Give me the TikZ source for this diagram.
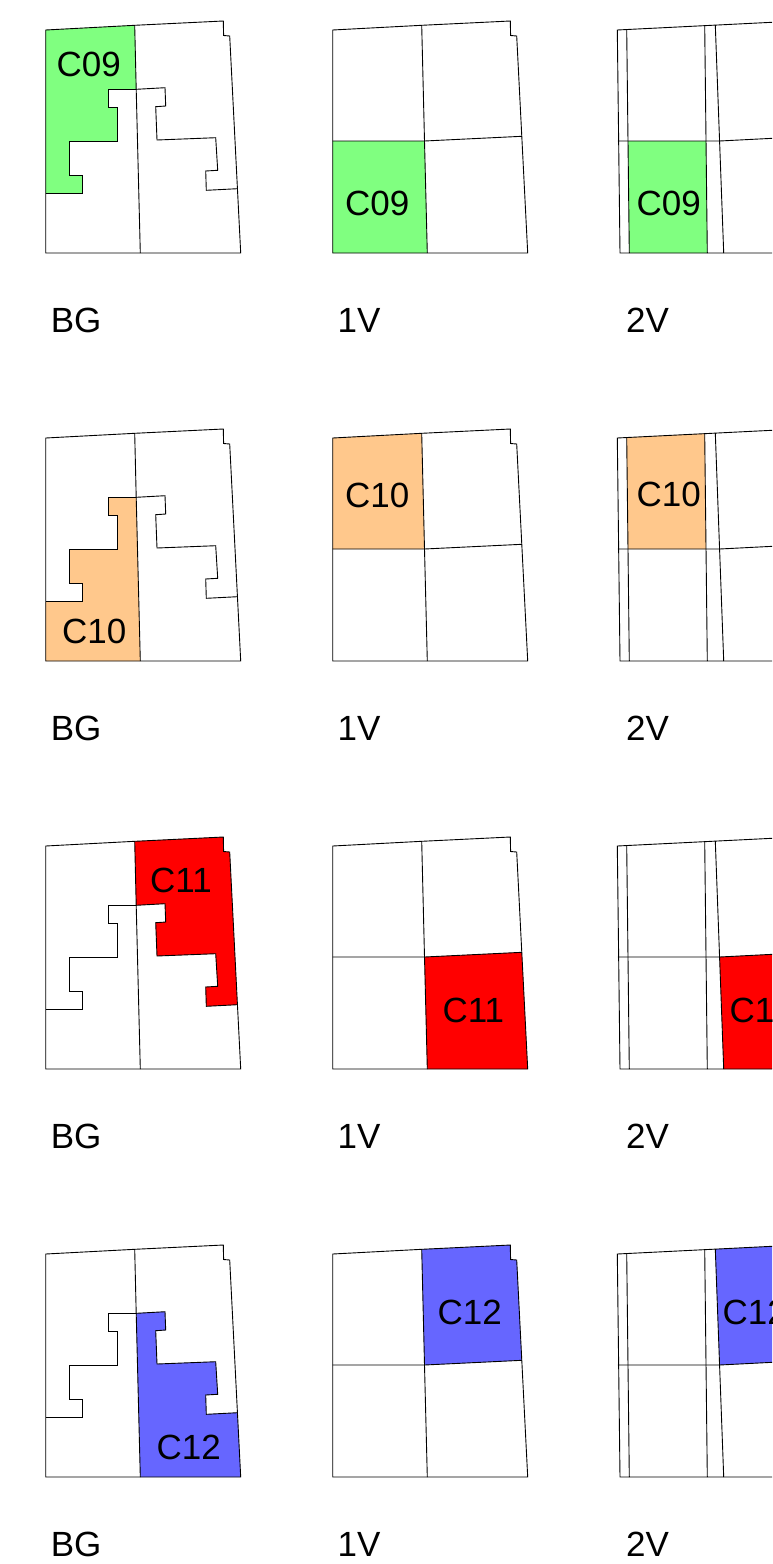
\documentclass[tikz,border=0pt]{standalone}
\usepackage{fontspec}
\setmainfont{Liberation Sans}
\definecolor{cgreen}{RGB}{128,255,128}
\definecolor{corange}{RGB}{255,200,140}
\definecolor{cred}{RGB}{255,0,0}
\definecolor{cblue}{RGB}{102,102,255}
% BG regions
\newcommand\pBGnine{(45.7,30) -- (134.7,25.3) -- (136.2,89.3) -- (108.3,89.3) -- (108.3,107.8) -- (117.3,107.8) -- (117.3,141.2) -- (69.7,141.2) -- (69.7,175.4) -- (82.2,175.4) -- (82.2,193.8) -- (45.7,193.8) -- cycle}
\newcommand\pBGten{(45.7,193.8) -- (82.2,193.8) -- (82.2,175.4) -- (69.7,175.4) -- (69.7,141.2) -- (117.3,141.2) -- (117.3,107.8) -- (108.3,107.8) -- (108.3,89.3) -- (136.2,89.3) -- (140.3,253) -- (45.7,253) -- cycle}
\newcommand\pBGeleven{(134.7,25.3) -- (223.3,21) -- (223.6,35.5) -- (229.7,36) -- (237.4,188.7) -- (206.3,190.3) -- (205.7,171) -- (217.7,170.3) -- (215.7,137.7) -- (157,140) -- (155.7,106.7) -- (165.7,106) -- (165,87.7) -- (136.2,89.3) -- cycle}
\newcommand\pBGtwelve{(136.2,89.3) -- (165,87.7) -- (165.7,106) -- (155.7,106.7) -- (157,140) -- (215.7,137.7) -- (217.7,170.3) -- (205.7,171) -- (206.3,190.3) -- (237.4,188.7) -- (240.7,253) -- (140.3,253) -- cycle}
% 1V regions
\newcommand\pOVnine{(332.7,141) -- (424.5,141) -- (427.3,253) -- (332.7,253) -- cycle}
\newcommand\pOVten{(332.7,30) -- (421.7,25.3) -- (424.5,141) -- (332.7,141) -- cycle}
\newcommand\pOVeleven{(424.5,141) -- (521.8,136.3) -- (527.7,253) -- (427.3,253) -- cycle}
\newcommand\pOVtwelve{(421.7,25.3) -- (510.3,21) -- (510.6,35.5) -- (516.7,36) -- (521.8,136.3) -- (424.5,141) -- cycle}
% 2V regions
\newcommand\pTVnine{(628.0,141) -- (706.0,141) -- (707.3,253) -- (629.3,253) -- cycle}
\newcommand\pTVten{(626.7,29.5) -- (704.7,25.6) -- (706.0,141) -- (628.0,141) -- cycle}
\newcommand\pTVeleven{(719.6,141) -- (800,136.9) -- (800,253) -- (723.7,253) -- cycle}
\newcommand\pTVtwelve{(715.3,25.1) -- (800,20.9) -- (800,136.9) -- (719.6,141) -- cycle}
% outlines
\newcommand\BGlines{%
  \draw[ln] (45.7,30) -- (134.7,25.3) -- (223.3,21) -- (223.6,35.5) -- (229.7,36) -- (240.7,253) -- (45.7,253) -- cycle;
  \draw[ln] (134.7,25.3) -- (136.2,89.3) -- (140.3,253);
  \draw[ln] (136.2,89.3) -- (108.3,89.3) -- (108.3,107.8) -- (117.3,107.8) -- (117.3,141.2) -- (69.7,141.2) -- (69.7,175.4) -- (82.2,175.4) -- (82.2,193.8) -- (45.7,193.8);
  \draw[ln] (136.2,89.3) -- (165,87.7) -- (165.7,106) -- (155.7,106.7) -- (157,140) -- (215.7,137.7) -- (217.7,170.3) -- (205.7,171) -- (206.3,190.3) -- (237.4,188.7);}
\newcommand\OVlines{%
  \draw[ln] (332.7,30) -- (421.7,25.3) -- (510.3,21) -- (510.6,35.5) -- (516.7,36) -- (527.7,253) -- (332.7,253) -- cycle;
  \draw[ln] (421.7,25.3) -- (424.5,141) -- (427.3,253);
  \draw[ln] (332.7,141) -- (424.5,141) -- (521.8,136.3);}
\newcommand\TVlines{%
  \draw[ln] (800,20.9) -- (617.3,30) -- (620,253) -- (800,253);
  \draw[ln] (626.7,29.5) -- (629.3,253);
  \draw[ln] (704.7,25.6) -- (707.3,253);
  \draw[ln] (715.3,25.1) -- (723.7,253);
  \draw[ln] (617.9,141) -- (719.6,141) -- (800,136.9);}
\newcommand\RowLabels[1]{%
  \node[rlbl] (bg#1) at (50.7,332.5) {BG};
  \node[rlbl] (ov#1) at (337.5,332.5) {1V};
  \node[rlbl] (tv#1) at (626,332.5) {2V};}
\begin{document}
\begin{tikzpicture}[x=1pt,y=-1pt,
  ln/.style={draw=black,line width=0.9pt,line join=miter},
  rlbl/.style={font=\fontsize{35}{42}\selectfont,inner sep=0pt,anchor=base west},
  clbl/.style={font=\fontsize{35}{42}\selectfont,inner sep=0pt,anchor=base}]
\useasboundingbox (0,0) rectangle (772,1564);
\fill[white] (0,0) rectangle (772,1564);
\clip (0,0) rectangle (772,1564);
% Row 1: C09
\begin{scope}
  \fill[cgreen] \pBGnine; \fill[cgreen] \pOVnine; \fill[cgreen] \pTVnine;
  \BGlines \OVlines \TVlines
  \node[clbl] (a1) at (88.8,76.7) {C09};
  \node[clbl] (a2) at (377.3,215) {C09};
  \node[clbl] (a3) at (668.8,215) {C09};
  \RowLabels{1}
\end{scope}
% Row 2: C10
\begin{scope}[shift={(0,408)}]
  \fill[corange] \pBGten; \fill[corange] \pOVten; \fill[corange] \pTVten;
  \BGlines \OVlines \TVlines
  \node[clbl] (b1) at (94.2,235.3) {C10};
  \node[clbl] (b2) at (377.2,99.3) {C10};
  \node[clbl] (b3) at (668.8,98.7) {C10};
  \RowLabels{2}
\end{scope}
% Row 3: C11
\begin{scope}[shift={(0,816)}]
  \fill[cred] \pBGeleven; \fill[cred] \pOVeleven; \fill[cred] \pTVeleven;
  \BGlines \OVlines \TVlines
  \node[clbl] (c1) at (181,76) {C11};
  \node[clbl] (c2) at (473.3,206.3) {C11};
  \node[clbl] (c3) at (760.5,206.7) {C11};
  \RowLabels{3}
\end{scope}
% Row 4: C12
\begin{scope}[shift={(0,1224)}]
  \fill[cblue] \pBGtwelve; \fill[cblue] \pOVtwelve; \fill[cblue] \pTVtwelve;
  \BGlines \OVlines \TVlines
  \node[clbl] (d1) at (188.8,235.3) {C12};
  \node[clbl] (d2) at (469.7,100.3) {C12};
  \node[clbl] (d3) at (754.7,100) {C12};
  \RowLabels{4}
\end{scope}
\end{tikzpicture}
\end{document}
